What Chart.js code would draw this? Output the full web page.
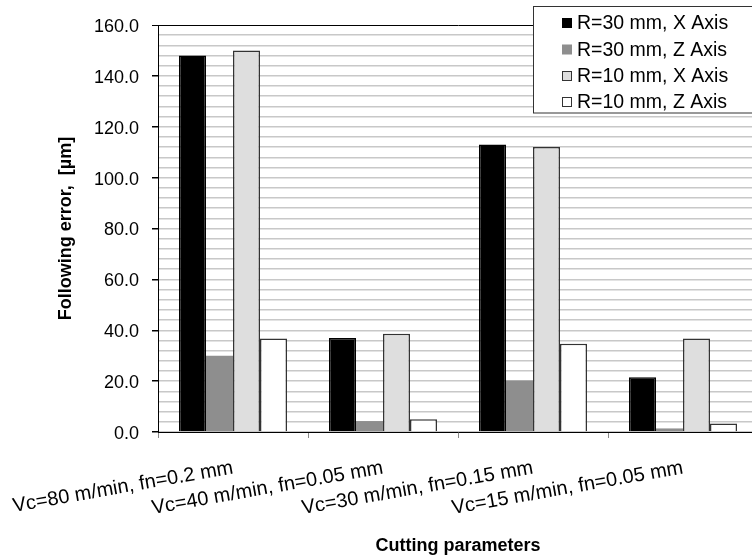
<!DOCTYPE html>
<html>
<head>
<meta charset="utf-8">
<script src="https://cdn.jsdelivr.net/npm/chart.js@4.4.1/dist/chart.umd.min.js"></script>
<style>
  html, body { margin: 0; padding: 0; background: #fff; overflow: hidden; }
  #wrap { width: 760px; height: 560px; }
</style>
</head>
<body>
<div id="wrap"><canvas id="c" width="760" height="560"></canvas></div>
<script>
const categories = [
  "Vc=80 m/min, fn=0.2 mm",
  "Vc=40 m/min, fn=0.05 mm",
  "Vc=30 m/min, fn=0.15 mm",
  "Vc=15 m/min, fn=0.05 mm"
];
const seriesLabels = ["R=30 mm, X Axis", "R=30 mm, Z Axis", "R=10 mm, X Axis", "R=10 mm, Z Axis"];
const r30x = [148, 37, 113, 21.5];
const r30z = [30, 4.3, 20.2, 1.4];
const r10x = [150, 38.6, 112, 36.8];
const r10z = [36.8, 5, 34.7, 3.3];
const yTickValues = [0, 20, 40, 60, 80, 100, 120, 140, 160];

const fillColors = ["#000000", "#8e8e8e", "#dedede", "#ffffff"];
const edgeColors = ["#000000", "#8e8e8e", "#333333", "#333333"];

const legendPlugin = {
  id: 'boxLegend',
  afterDraw(chart) {
    const ctx = chart.ctx;
    ctx.save();
    ctx.fillStyle = '#fff';
    ctx.fillRect(533.5, 6.5, 240, 106.5);
    ctx.strokeStyle = '#333';
    ctx.lineWidth = 1;
    ctx.strokeRect(533.5, 6.5, 240, 106.5);
    const rows = [23, 49.5, 76, 102];
    chart.data.datasets.forEach((ds, i) => {
      const y = rows[i];
      ctx.fillStyle = ds.backgroundColor;
      ctx.fillRect(562, y - 5, 10, 10);
      if (i >= 2) {
        ctx.strokeStyle = '#333';
        ctx.lineWidth = 1;
        ctx.strokeRect(562.5, y - 4.5, 9, 9);
      }
      ctx.fillStyle = '#000';
      ctx.font = '19.5px "Liberation Sans", Arial, sans-serif';
      ctx.textBaseline = 'middle';
      ctx.textAlign = 'left';
      ctx.fillText(ds.label, 577, y + 1);
    });
    ctx.restore();
  }
};

const datasets = [r30x, r30z, r10x, r10z].map((d, i) => ({
  label: seriesLabels[i],
  data: d,
  backgroundColor: fillColors[i],
  borderColor: edgeColors[i],
  borderWidth: i === 1 ? 0 : 1.5,
  categoryPercentage: 0.72,
  barPercentage: 1.0
}));

new Chart(document.getElementById('c'), {
  type: 'bar',
  data: { labels: categories, datasets },
  plugins: [legendPlugin],
  options: {
    responsive: false,
    animation: false,
    devicePixelRatio: 1,
    layout: { padding: { top: 25, right: 2, left: 0, bottom: 0 } },
    plugins: { legend: { display: false }, tooltip: { enabled: false } },
    scales: {
      x: {
        afterFit(s) { s.height = 128; s.paddingLeft = 0; s.paddingRight = 0; },
        grid: {
          offset: true,
          drawOnChartArea: false,
          drawTicks: true,
          tickLength: 6,
          color: '#888',
          tickColor: '#888'
        },
        border: { color: '#000', width: 1 },
        ticks: {
          autoSkip: false,
          maxRotation: 10,
          minRotation: 10,
          padding: 18,
          color: '#000',
          font: { family: '"Liberation Sans", Arial, sans-serif', size: 20 }
        },
        title: {
          display: true,
          text: 'Cutting parameters',
          color: '#000',
          font: { family: '"Liberation Sans", Arial, sans-serif', size: 18, weight: 'bold' },
          padding: { top: 0, bottom: 3 }
        }
      },
      y: {
        min: 0,
        max: 160,
        afterFit(s) { s.width = 158; s.paddingTop = 0; s.paddingBottom = 0; },
        afterBuildTicks(s) {
          const t = [];
          for (let v = 0; v <= 160; v += 4) t.push({ value: v });
          s.ticks = t;
        },
        grid: {
          color: (c) => (c.tick && c.tick.value === 160) ? '#000' : '#c8c8c8',
          lineWidth: (c) => (c.tick && c.tick.value === 160) ? 1 : 1.5,
          tickColor: (c) => (c.tick && yTickValues.includes(c.tick.value)) ? '#000' : 'rgba(0,0,0,0)',
          tickLength: 6,
          drawTicks: true
        },
        border: { color: '#000', width: 1 },
        ticks: {
          autoSkip: false,
          padding: 13,
          labelOffset: 2,
          color: '#000',
          font: { family: '"Liberation Sans", Arial, sans-serif', size: 18 },
          callback: (v) => yTickValues.includes(v) ? v.toFixed(1) : ''
        },
        title: {
          display: true,
          text: 'Following error,  [µm]',
          color: '#000',
          font: { family: '"Liberation Sans", Arial, sans-serif', size: 18, weight: 'bold' },
          padding: { top: 55, bottom: 0 }
        }
      }
    }
  }
});
</script>
</body>
</html>
